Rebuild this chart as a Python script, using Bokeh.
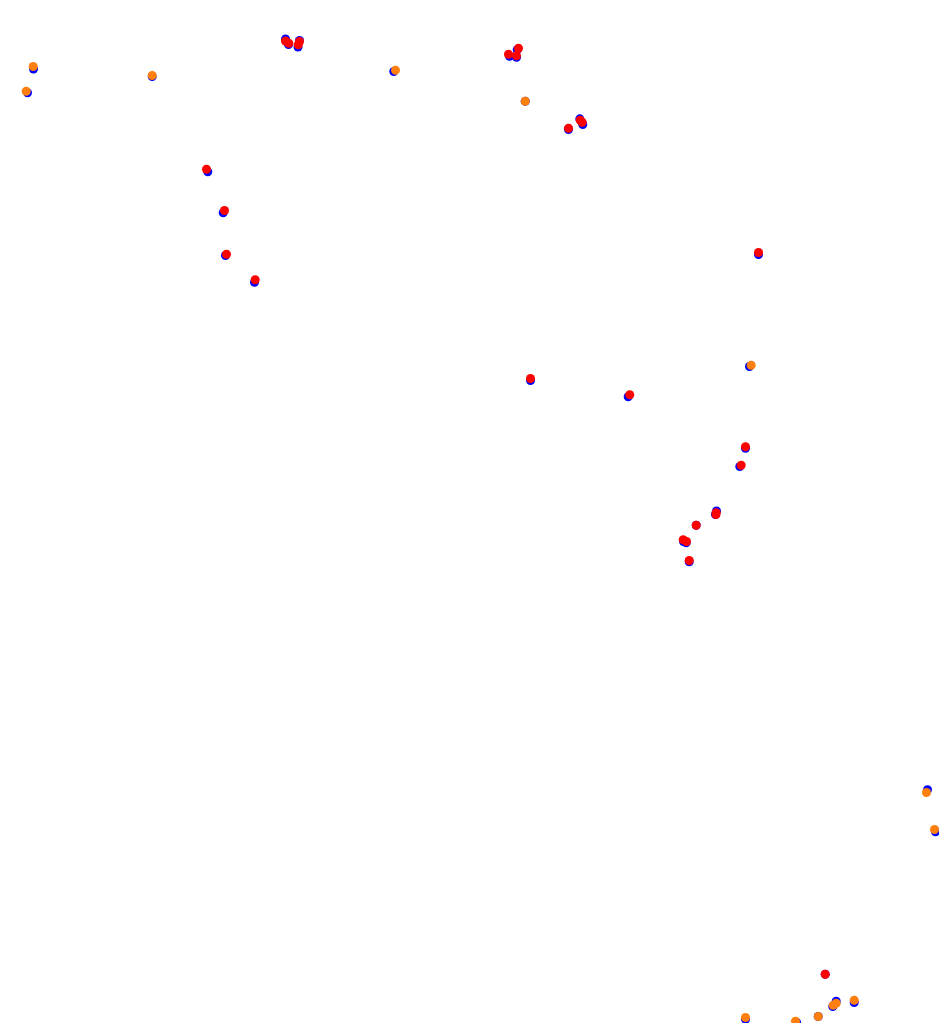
from bokeh.plotting import figure
from bokeh.models import Range1d
from bokeh.embed import file_html
from bokeh.resources import INLINE

# Positions (screen-like units, y grows downward)
blue_x = [33, 27, 151.7, 285, 288, 299, 297.5, 516.7, 509, 516, 524.7, 568, 579.3, 582.3,
          393.3, 207.3, 222.7, 225, 254, 758, 749, 530, 627.7, 745, 739.3, 716, 715,
          695.7, 685.7, 683, 688.7, 927, 935, 824.7, 853.7, 835.7, 832.3, 817.7, 745, 796]
blue_y = [68.5, 92.3, 76, 38.5, 44, 40, 46.5, 49.3, 55.7, 56.7, 100.7, 129, 118.3, 124,
          71, 171.3, 212.3, 255, 281.7, 254, 366, 380, 396.3, 447.7, 466, 510.5, 514,
          524.7, 542.3, 541, 561.3, 789.3, 831.3, 973.7, 1002, 1000.7, 1006, 1016, 1018.7, 1021.7]

red_x = [285, 288.3, 299, 297.7, 518, 508, 516, 568, 579.7, 581.7, 206, 224, 226, 254.7,
         758, 530, 629.3, 745, 740.7, 715.7, 715.5, 695.7, 682.7, 686, 688.7, 824.7]
red_y = [40.5, 42.7, 41, 44.3, 47.7, 53.7, 55.3, 127.7, 119.7, 121.7, 168.7, 210, 253.7, 279.3,
         252, 378, 394.3, 446.3, 464.7, 512.3, 514, 524.7, 539.3, 541, 560, 973.7]

orange_x = [32.7, 25.7, 151.7, 395, 524.7, 750.7, 926, 934, 853.7, 835.7, 832.7, 817.7, 745, 795]
orange_y = [66, 90.7, 75, 69.7, 100.7, 364.7, 792, 829, 999.7, 1002.7, 1004.7, 1016, 1017, 1020.7]

p = figure(width=939, height=1023, output_backend="svg", toolbar_location=None,
           x_range=Range1d(0, 939), y_range=Range1d(1023, 0),
           min_border=0, min_border_left=0, min_border_right=0,
           min_border_top=0, min_border_bottom=0)
p.axis.visible = False
p.grid.visible = False
p.outline_line_color = None
p.background_fill_color = "white"
p.border_fill_color = "white"

p.scatter(blue_x, blue_y, size=9, fill_color="#0000ff", line_color=None)
p.scatter(red_x, red_y, size=9, fill_color="#ff0000", line_color=None)
p.scatter(orange_x, orange_y, size=9, fill_color="#ff7f0e", line_color=None)

open("out.html", "w").write(file_html(p, INLINE))
